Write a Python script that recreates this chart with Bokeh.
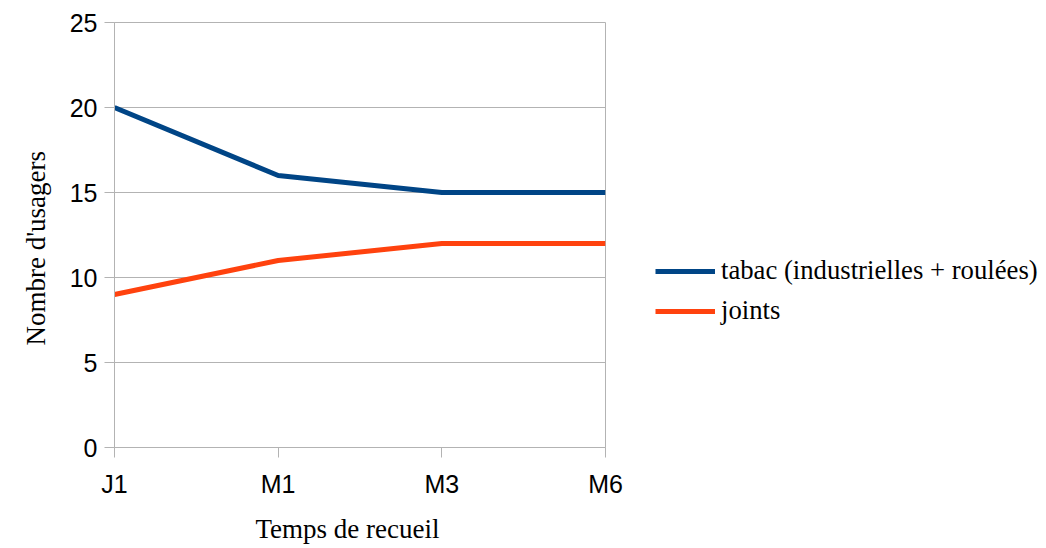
from bokeh.plotting import figure
from bokeh.models import Legend, LegendItem, FixedTicker, Range1d, Title
from bokeh.embed import file_html
from bokeh.resources import INLINE

categories = ["J1", "M1", "M3", "M6"]
tabac = [20, 16, 15, 15]
joints = [9, 11, 12, 12]
series_names = ["tabac (industrielles + roulées)", "joints"]
y_ticks = [0, 5, 10, 15, 20, 25]
x_title = "Temps de recueil"
y_title = "Nombre d'usagers"

xs = list(range(len(categories)))

p = figure(frame_width=491, frame_height=425, output_backend="svg", toolbar_location=None,
           x_range=Range1d(0, len(categories) - 1), y_range=Range1d(0, 25),
           min_border_left=114, min_border_top=22, min_border_bottom=80, min_border_right=10)
p.background_fill_color = "white"
p.border_fill_color = "white"
p.outline_line_color = "#b3b3b3"
p.outline_line_width = 1

r1 = p.line(xs, tabac, line_color="#004586", line_width=5)
r2 = p.line(xs, joints, line_color="#ff420e", line_width=5)

p.xaxis.ticker = FixedTicker(ticks=xs)
p.xaxis.major_label_overrides = {i: c for i, c in enumerate(categories)}
p.yaxis.ticker = FixedTicker(ticks=y_ticks)
p.xgrid.visible = False
p.ygrid.grid_line_color = "#b3b3b3"
p.ygrid.grid_line_width = 1

for ax in (p.xaxis[0], p.yaxis[0]):
    ax.axis_line_color = "#b3b3b3"
    ax.major_tick_line_color = "#b3b3b3"
    ax.major_tick_in = 0
    ax.major_tick_out = 10
    ax.minor_tick_line_color = None
    ax.major_label_text_font = "Liberation Sans"
    ax.major_label_text_font_size = "25px"
    ax.major_label_text_color = "black"

p.xaxis.major_label_standoff = 12
p.yaxis.major_label_standoff = 7

xt = Title(text=x_title, align="left", offset=141, standoff=23,
           text_font="Liberation Serif", text_font_size="27px",
           text_font_style="normal", text_color="black")
p.add_layout(xt, "below")
yt = Title(text=y_title, align="left", offset=102, standoff=28, vertical_align="top",
           text_font="Liberation Serif", text_font_size="27px",
           text_font_style="normal", text_color="black")
p.add_layout(yt, "left")

legend = Legend(items=[LegendItem(label=series_names[0], renderers=[r1]),
                       LegendItem(label=series_names[1], renderers=[r2])],
                location=(50, 121), margin=0, padding=0,
                border_line_color=None, background_fill_alpha=0,
                glyph_width=60, glyph_height=26, label_height=26, spacing=9,
                label_standoff=6,
                label_text_font="Liberation Serif", label_text_font_size="26.7px",
                label_text_color="black")
p.add_layout(legend, "right")

open("out.html", "w").write(file_html(p, INLINE))
